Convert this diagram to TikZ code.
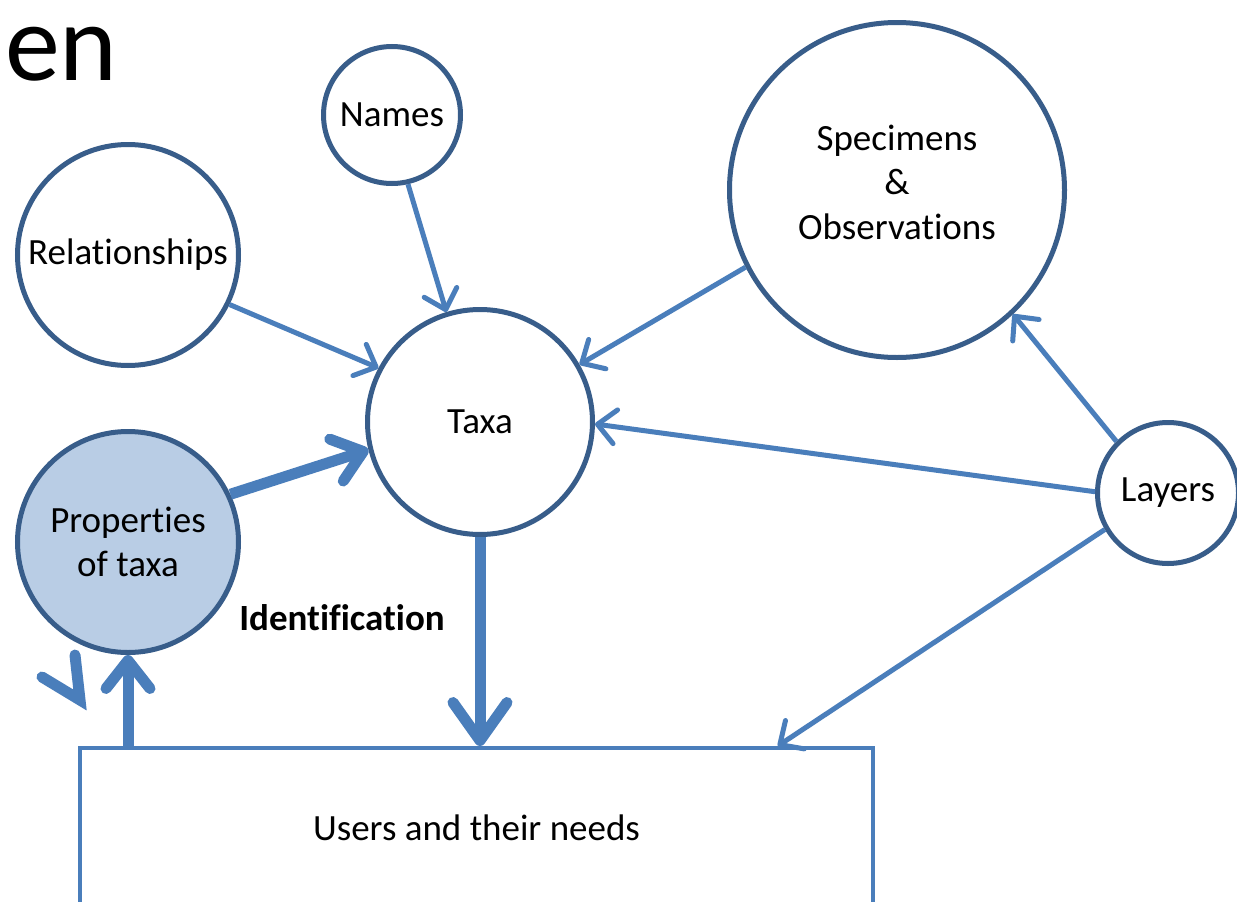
\documentclass[tikz,border=0pt]{standalone}
\usepackage{fontspec}
\setmainfont{Carlito}[Ligatures={NoCommon,NoContextual,NoRare},Contextuals=NoAlternate]
\usetikzlibrary{arrows.meta,calc}
\definecolor{cborder}{HTML}{385D8A}
\definecolor{arrowblue}{HTML}{4A7EBB}
\definecolor{propfill}{HTML}{B9CDE5}
\newcommand{\nolig}{\kern0pt }
\begin{document}
\begin{tikzpicture}[x=1pt,y=-1pt,
  bubble/.style={circle,draw=cborder,line width=5pt,align=center,inner sep=0pt,font=\fontsize{37}{44.5}\selectfont},
  label/.style={align=center,inner sep=0pt,font=\fontsize{37}{44.5}\selectfont},
  thinarrow/.style={draw=arrowblue,line width=5pt,-{Straight Barb[length=18pt,width=34pt,round]}},
  thickarrow/.style={draw=arrowblue,line width=11pt,-{Straight Barb[length=28pt,width=44pt,round]}},
  bigarrow/.style={draw=arrowblue,line width=11pt,-{Straight Barb[length=38pt,width=54pt,round]}},
]
\useasboundingbox (0,0) rectangle (1237,902);
\clip (0,0) rectangle (1237,902);
\fill[white] (0,0) rectangle (1237,902);

\node[font=\fontsize{110}{120}\selectfont,anchor=base west,inner sep=0pt] (title) at (5,80) {en};

\node[bubble,minimum size=137pt] (names) at (392,115) {Names};
\node[bubble,minimum size=221pt] (rel) at (128,255) {Relat\nolig ionships};
\node[bubble,minimum size=335pt] (spec) at (897,190) {};
\node[label] (spectext) at (897,182) {Specimens\\\&\\Observat\nolig ions};
\node[bubble,minimum size=225pt] (taxa) at (480,422) {Taxa};
\node[bubble,minimum size=221pt,fill=propfill] (props) at (128,542) {Propert\nolig ies\\of taxa};
\node[bubble,minimum size=141pt] (layers) at (1168,493) {Layers};
\node[draw=arrowblue,line width=4pt,minimum width=793pt,minimum height=160pt,inner sep=0pt,font=\fontsize{37}{44.5}\selectfont] (users) at (476.5,828) {Users and their needs};
\node[font=\bfseries\fontsize{37}{44.5}\selectfont,inner sep=0pt] (ident) at (342,618) {Ident\nolig if\nolig icat\nolig ion};

\draw[thinarrow] (names.-77) -- (taxa.107);
\draw[thinarrow] (rel.-26) -- (taxa.152);
\draw[thinarrow] (spec.-153) -- (taxa.30);
\draw[thinarrow] (layers.179) -- (taxa.-1);
\draw[thinarrow] (layers.135) -- (spec.-47);
\draw[thinarrow] (layers.210) -- ($(users.north west)!0.878!(users.north east)$);
\draw[thickarrow] (props.25) -- (taxa.194);
\draw[bigarrow] (taxa.south) -- (taxa.south |- users.north);
\draw[thickarrow] (props.south |- users.north) -- (props.south);
\draw[arrowblue,line width=11pt,line cap=round,line join=miter] (42,677) -- (80,700) -- (75,655);
\end{tikzpicture}
\end{document}
